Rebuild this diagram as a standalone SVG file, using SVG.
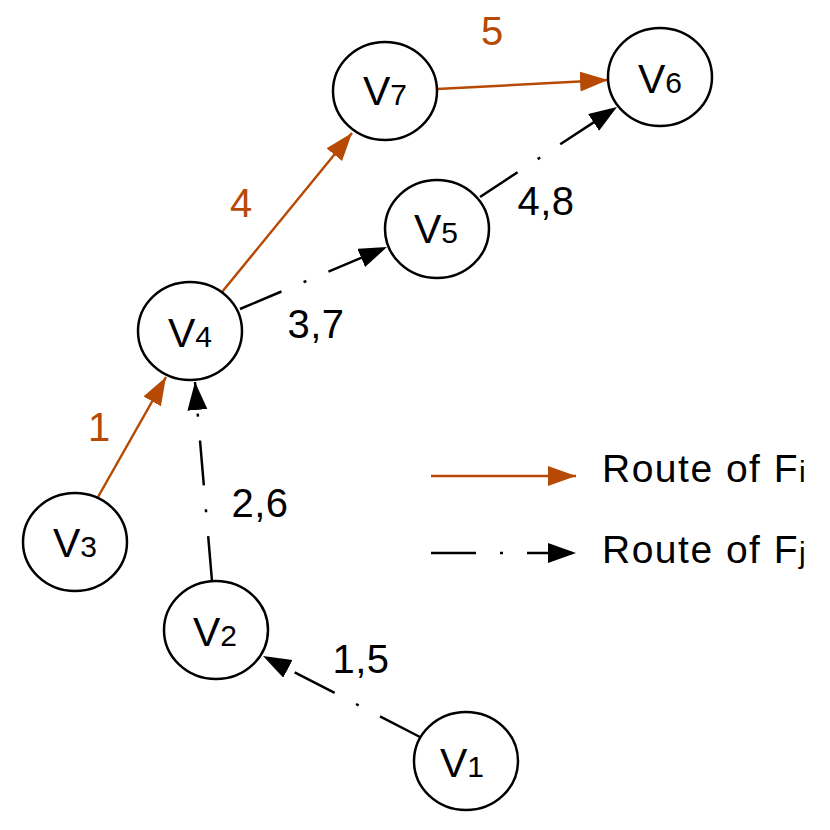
<svg xmlns="http://www.w3.org/2000/svg" width="830" height="830" viewBox="0 0 830 830">
<style>
  text { font-family: "Liberation Sans", Arial, sans-serif; }
  .node { fill: #fff; stroke: #000; stroke-width: 2.5; }
  .nl { font-size: 41px; fill: #000; text-anchor: middle; }
  .sub { font-size: 30px; }
  .fi { stroke: #B64A04; stroke-width: 2.5; fill: none; marker-end: url(#ao); }
  .fj { stroke: #000; stroke-width: 2.5; fill: none; stroke-dasharray: 45 24 3 24; marker-end: url(#ab); }
  .lo { font-size: 40px; fill: #B64A04; text-anchor: middle; }
  .lb { font-size: 40px; fill: #000; text-anchor: middle; letter-spacing: 0.5px; }
  .leg { font-size: 39px; fill: #000; letter-spacing: 1.5px; }
</style>
<defs>
  <marker id="ao" markerUnits="userSpaceOnUse" markerWidth="30" markerHeight="22" refX="28" refY="10" orient="auto" viewBox="0 0 30 22">
    <path d="M0,0 L28,10 L0,20 z" fill="#B64A04"/>
  </marker>
  <marker id="ab" markerUnits="userSpaceOnUse" markerWidth="30" markerHeight="22" refX="28" refY="10" orient="auto" viewBox="0 0 30 22">
    <path d="M0,0 L28,10 L0,20 z" fill="#000"/>
  </marker>
</defs>
<g id="connectors">
  <line class="fi" x1="98" y1="497" x2="166" y2="377"/>
  <line class="fi" x1="222" y1="292" x2="352" y2="133"/>
  <line class="fi" x1="437" y1="89" x2="608" y2="80"/>
  <line class="fj" x1="420" y1="737" x2="263" y2="656"/>
  <line class="fj" x1="212" y1="581" x2="195" y2="382"/>
  <line class="fj" x1="240" y1="309" x2="387" y2="247"/>
  <line class="fj" x1="480" y1="197" x2="617" y2="107"/>
</g>
<g id="edge-labels">
  <text class="lo" x="99" y="441">1</text>
  <text class="lo" x="241" y="217">4</text>
  <text class="lo" x="492" y="45">5</text>
  <text class="lb" x="361" y="673">1,5</text>
  <text class="lb" x="260" y="517">2,6</text>
  <text class="lb" x="316" y="338">3,7</text>
  <text class="lb" x="546" y="215">4,8</text>
</g>
<g id="V1"><ellipse class="node" cx="466" cy="761" rx="52" ry="49"/><text class="nl" x="462" y="777">V<tspan class="sub">1</tspan></text></g>
<g id="V2"><ellipse class="node" cx="216" cy="630" rx="52" ry="49"/><text class="nl" x="215" y="646">V<tspan class="sub">2</tspan></text></g>
<g id="V3"><ellipse class="node" cx="75" cy="542" rx="52" ry="49"/><text class="nl" x="75" y="557">V<tspan class="sub">3</tspan></text></g>
<g id="V4"><ellipse class="node" cx="190" cy="331" rx="52" ry="49"/><text class="nl" x="190" y="347">V<tspan class="sub">4</tspan></text></g>
<g id="V5"><ellipse class="node" cx="437" cy="229" rx="52" ry="49"/><text class="nl" x="436" y="243">V<tspan class="sub">5</tspan></text></g>
<g id="V6"><ellipse class="node" cx="660" cy="77" rx="52" ry="49"/><text class="nl" x="660" y="93">V<tspan class="sub">6</tspan></text></g>
<g id="V7"><ellipse class="node" cx="385" cy="91" rx="52" ry="49"/><text class="nl" x="385" y="105">V<tspan class="sub">7</tspan></text></g>
<g id="legend">
  <line class="fi" x1="431" y1="476" x2="576" y2="476"/>
  <line class="fj" x1="431" y1="553" x2="576" y2="553"/>
  <text class="leg" x="602" y="482">Route of F<tspan class="sub">i</tspan></text>
  <text class="leg" x="602" y="563">Route of F<tspan class="sub">j</tspan></text>
</g>
</svg>
